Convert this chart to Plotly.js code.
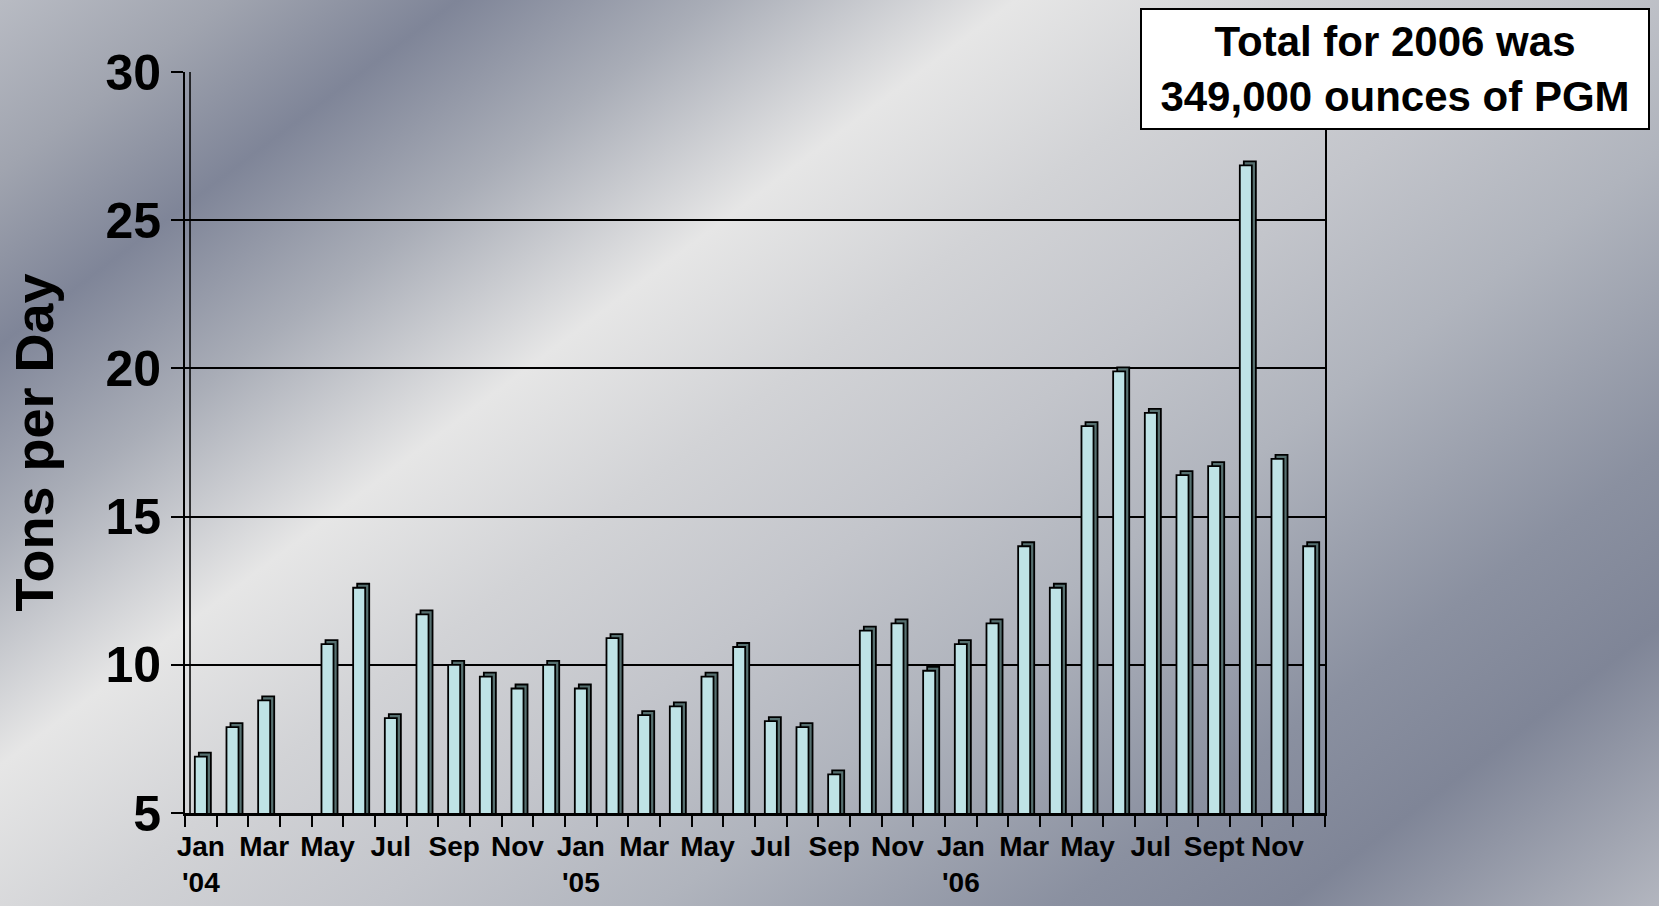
<!DOCTYPE html>
<html>
<head>
<meta charset="utf-8">
<script src="https://cdn.plot.ly/plotly-3.0.1.min.js"></script>
<style>
  html, body { margin: 0; padding: 0; width: 1659px; height: 906px; overflow: hidden; }
  body {
    background: linear-gradient(143deg,
      #b8bbc3 0%, #a0a4af 8%, #7f8598 16%, #a9adb7 25%, #e6e6e6 35.5%,
      #d2d3d6 45%, #c3c5cb 55%, #b0b4bd 65%, #8a90a0 79%, #7f8597 87%, #b3b6bf 100%);
  }
  #chart { width: 1659px; height: 906px; }
</style>
</head>
<body>
<div id="chart"></div>
<script>
// Months Jan 2004 .. Dec 2006
const months = [
  "2004-01","2004-02","2004-03","2004-04","2004-05","2004-06","2004-07","2004-08","2004-09","2004-10","2004-11","2004-12",
  "2005-01","2005-02","2005-03","2005-04","2005-05","2005-06","2005-07","2005-08","2005-09","2005-10","2005-11","2005-12",
  "2006-01","2006-02","2006-03","2006-04","2006-05","2006-06","2006-07","2006-08","2006-09","2006-10","2006-11","2006-12"
];
const tickLabels = [
  "Jan<br>'04","","Mar","","May","","Jul","","Sep","","Nov","",
  "Jan<br>'05","","Mar","","May","","Jul","","Sep","","Nov","",
  "Jan<br>'06","","Mar","","May","","Jul","","Sept","","Nov",""
];
const tonsPerDay = [
  6.9, 7.9, 8.8, null, 10.7, 12.6, 8.2, 11.7, 10.0, 9.6, 9.2, 10.0,
  9.2, 10.9, 8.3, 8.6, 9.6, 10.6, 8.1, 7.9, 6.3, 11.15, 11.4, 9.8,
  10.7, 11.4, 14.0, 12.6, 18.05, 19.9, 18.5, 16.4, 16.7, 26.85, 16.95, 14.0
];
const yTitle = "Tons per Day";
const noteText = "Total for 2006 was<br>349,000 ounces of PGM";

const FONT = "Liberation Sans, Arial, sans-serif";

// empty trace so the main (x, y) subplot with its axes and grid is drawn
const axisHolder = {
  type: "scatter", x: [], y: [], xaxis: "x", yaxis: "y",
  hoverinfo: "skip", showlegend: false
};
const backFace = {
  type: "bar", x: months, y: tonsPerDay, xaxis: "x", yaxis: "y2",
  width: 0.38, offset: -0.063,
  marker: { color: "#567070", line: { color: "#000", width: 1.8 } },
  hoverinfo: "skip", showlegend: false
};
const frontFace = {
  type: "bar", x: months, y: tonsPerDay, xaxis: "x", yaxis: "y3",
  width: 0.38, offset: -0.19,
  marker: { color: "#bfe3e6", line: { color: "#000", width: 1.8 } },
  showlegend: false, name: "Tons per Day"
};

const layout = {
  width: 1659, height: 906,
  margin: { l: 185, r: 334, t: 72, b: 93 },
  paper_bgcolor: "rgba(0,0,0,0)",
  plot_bgcolor: "rgba(0,0,0,0)",
  barmode: "overlay",
  font: { family: FONT, color: "#000" },
  xaxis: {
    type: "category",
    categoryorder: "array", categoryarray: months,
    range: [-0.5, 35.5],
    tickvals: months, ticktext: tickLabels,
    tickson: "boundaries",
    ticks: "outside", ticklen: 11, tickwidth: 2, tickcolor: "#000",
    ticklabelstandoff: 6,
    showline: true, linewidth: 3, linecolor: "#000",
    showgrid: false, tickangle: 0,
    tickfont: { family: FONT, size: 28, weight: 700, color: "#000" }
  },
  yaxis: {
    range: [5, 30], tick0: 5, dtick: 5,
    showgrid: true, gridcolor: "#000", gridwidth: 2,
    zeroline: false,
    showline: true, linewidth: 2, linecolor: "#000", mirror: true,
    ticks: "outside", ticklen: 12, tickwidth: 2, tickcolor: "#000",
    tickfont: { family: FONT, size: 50, weight: 700, color: "#000" },
    title: { text: yTitle, standoff: 34, font: { family: FONT, size: 54, weight: 700, color: "#000" } }
  },
  yaxis2: { range: [4.865, 29.865], overlaying: "y", visible: false },
  yaxis3: { range: [5, 30], overlaying: "y", visible: false },
  shapes: [
    { type: "line", xref: "paper", yref: "paper", x0: 0.0044, x1: 0.0044, y0: 0, y1: 1,
      line: { color: "#000", width: 1.5 }, layer: "above" }
  ],
  annotations: [
    { xref: "paper", yref: "paper", x: 1.0615, y: 1.0047, xanchor: "center", yanchor: "middle",
      text: noteText, showarrow: false, align: "center",
      font: { family: FONT, size: 42, weight: 700, color: "#000" },
      bgcolor: "#fff", bordercolor: "#000", borderwidth: 2, borderpad: 8, width: 490 }
  ]
};

Plotly.newPlot("chart", [axisHolder, backFace, frontFace], layout, { displayModeBar: false, staticPlot: true });
</script>
</body>
</html>
